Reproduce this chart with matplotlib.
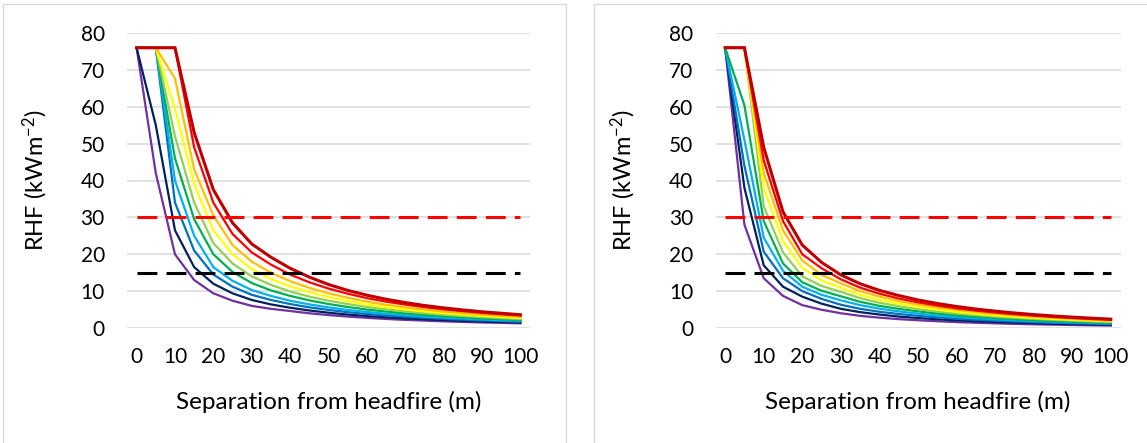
import matplotlib
matplotlib.use("Agg")
import matplotlib.pyplot as plt
from matplotlib.patches import Rectangle

plt.rcParams['font.family'] = ['Lato', 'DejaVu Sans']
plt.rcParams['mathtext.fontset'] = 'custom'
plt.rcParams['mathtext.rm'] = 'Lato'
plt.rcParams['mathtext.it'] = 'Lato'

separation = [0, 5, 10, 15, 20, 25, 30, 35, 40, 45, 50,
              55, 60, 65, 70, 75, 80, 85, 90, 95, 100]
tick_labels = ['0', '10', '20', '30', '40', '50', '60', '70', '80', '90', '100']
series_colors = ['#7030A0', '#002060', '#0070C0', '#00B0F0', '#00B050',
                 '#92D050', '#FFFF00', '#FFC000', '#FF0000', '#C00000']

# left chart
left_purple = [76, 42, 20, 13, 9.4, 7.4, 6.0, 5.2, 4.6, 4.0, 3.5, 3.1, 2.75, 2.45, 2.2, 2.0, 1.8, 1.65, 1.5, 1.38, 1.27]
left_navy = [76, 55, 26.5, 16.5, 12.0, 9.4, 7.6, 6.4, 5.5, 4.75, 4.15, 3.65, 3.25, 2.9, 2.6, 2.35, 2.13, 1.93, 1.76, 1.62, 1.5]
left_blue = [76, 76, 34, 21, 14.5, 11.2, 9.0, 7.6, 6.5, 5.6, 4.9, 4.3, 3.8, 3.4, 3.05, 2.75, 2.5, 2.25, 2.05, 1.88, 1.73]
left_lightblue = [76, 76, 40, 25, 16.5, 12.8, 10.3, 8.7, 7.4, 6.4, 5.6, 4.9, 4.35, 3.85, 3.45, 3.1, 2.8, 2.55, 2.3, 2.1, 1.95]
left_green = [76, 76, 46, 29.5, 20, 15.2, 12.2, 10.2, 8.7, 7.5, 6.5, 5.7, 5.0, 4.45, 3.95, 3.55, 3.2, 2.9, 2.62, 2.4, 2.2]
left_lightgreen = [76, 76, 52, 34, 23, 17.5, 14.0, 11.7, 9.9, 8.5, 7.4, 6.5, 5.7, 5.05, 4.5, 4.0, 3.6, 3.25, 2.95, 2.68, 2.45]
left_yellow = [76, 76, 59.5, 39, 26.5, 20, 16, 13.3, 11.3, 9.7, 8.4, 7.3, 6.4, 5.65, 5.0, 4.5, 4.03, 3.63, 3.28, 2.98, 2.72]
left_orange = [76, 76, 67.7, 43, 30.5, 22.5, 18, 15.0, 12.7, 10.9, 9.4, 8.2, 7.15, 6.3, 5.6, 5.0, 4.45, 4.0, 3.62, 3.28, 3.0]
left_red = [76, 76, 76, 49, 34, 25.5, 20.5, 17.2, 14.5, 12.4, 10.7, 9.3, 8.1, 7.15, 6.35, 5.65, 5.05, 4.55, 4.1, 3.72, 3.38]
left_darkred = [76, 76, 76, 53, 37.5, 28.5, 22.8, 19.2, 16.2, 13.8, 11.8, 10.2, 8.9, 7.8, 6.9, 6.1, 5.45, 4.9, 4.4, 4.0, 3.6]

# right chart
right_purple = [76, 28, 13.5, 8.7, 6.2, 4.95, 4.0, 3.3, 2.8, 2.4, 2.1, 1.83, 1.6, 1.42, 1.26, 1.12, 1.0, 0.9, 0.81, 0.73, 0.66]
right_navy = [76, 38, 17, 11.2, 8.5, 6.6, 5.2, 4.3, 3.65, 3.1, 2.7, 2.36, 2.07, 1.83, 1.63, 1.45, 1.3, 1.17, 1.05, 0.95, 0.86]
right_blue = [76, 44, 20.7, 13.5, 10, 7.9, 6.3, 5.2, 4.4, 3.8, 3.3, 2.88, 2.52, 2.23, 1.98, 1.77, 1.58, 1.42, 1.28, 1.16, 1.05]
right_lightblue = [76, 51, 24.5, 15.5, 11.2, 9.0, 7.5, 6.2, 5.25, 4.5, 3.9, 3.4, 2.99, 2.65, 2.35, 2.1, 1.88, 1.69, 1.52, 1.38, 1.25]
right_green = [76, 60.4, 29, 17.5, 12.4, 10.1, 8.6, 7.1, 6.0, 5.2, 4.5, 3.93, 3.45, 3.05, 2.71, 2.42, 2.17, 1.95, 1.76, 1.59, 1.44]
right_lightgreen = [76, 76, 33, 20.5, 14, 11.4, 9.8, 8.1, 6.85, 5.9, 5.1, 4.47, 3.93, 3.48, 3.09, 2.76, 2.47, 2.22, 2.0, 1.81, 1.64]
right_yellow = [76, 76, 38, 23.5, 16.3, 12.9, 10.9, 9.0, 7.65, 6.6, 5.7, 4.98, 4.37, 3.87, 3.43, 3.06, 2.74, 2.46, 2.22, 2.0, 1.82]
right_orange = [76, 76, 42, 26.5, 18.3, 14.4, 12.1, 10.0, 8.5, 7.3, 6.35, 5.55, 4.87, 4.3, 3.82, 3.4, 3.04, 2.73, 2.46, 2.22, 2.01]
right_red = [76, 76, 45.5, 29, 20, 16.2, 13.2, 10.95, 9.3, 8.0, 6.95, 6.07, 5.33, 4.72, 4.19, 3.73, 3.34, 3.0, 2.7, 2.44, 2.2]
right_darkred = [76, 76, 49, 31.5, 22.5, 17.8, 14.4, 12.0, 10.2, 8.8, 7.6, 6.65, 5.83, 5.15, 4.57, 4.07, 3.64, 3.27, 2.95, 2.66, 2.4]

threshold_high = 30
threshold_low = 15

left_series = [left_purple, left_navy, left_blue, left_lightblue, left_green,
               left_lightgreen, left_yellow, left_orange, left_red, left_darkred]
right_series = [right_purple, right_navy, right_blue, right_lightblue, right_green,
                right_lightgreen, right_yellow, right_orange, right_red, right_darkred]

fig = plt.figure(figsize=(11.47, 4.43), dpi=100)

# chart borders
fig.patches.append(Rectangle((3 / 1147, -0.01), 563 / 1147, (443 - 4) / 443 + 0.01,
                             transform=fig.transFigure, fill=False,
                             edgecolor='#D9D9D9', lw=1.0))
fig.patches.append(Rectangle((594 / 1147, -0.01), 560 / 1147, (443 - 4) / 443 + 0.01,
                             transform=fig.transFigure, fill=False,
                             edgecolor='#D9D9D9', lw=1.0))

ax_left = fig.add_axes([127 / 1147, 115 / 443, 403 / 1147, 295 / 443])
ax_right = fig.add_axes([715.5 / 1147, 115 / 443, 405 / 1147, 295 / 443])


def draw_chart(ax, series):
    for values, color in zip(series, series_colors):
        lw = 2.2 if color == '#C00000' else 1.6
        ax.plot(separation, values, color=color, lw=lw, solid_joinstyle='miter',
                zorder=3)
    ax.plot([separation[0], separation[-1]], [threshold_high] * 2, color='#FF0000',
            lw=2.2, dashes=(6.5, 3.0), zorder=4)
    ax.plot([separation[0], separation[-1]], [threshold_low] * 2, color='black',
            lw=2.2, dashes=(6.5, 3.0), zorder=4)

    ax.set_xlim(-2.5, 102.5)
    ax.set_ylim(0, 80)
    ax.set_yticks(range(0, 81, 10))
    ax.set_xticks(range(0, 101, 10))
    ax.set_xticklabels(tick_labels)
    ax.grid(axis='y', color='#D9D9D9', lw=1.1)
    ax.set_axisbelow(True)
    for side in ['top', 'right', 'left', 'bottom']:
        ax.spines[side].set_visible(False)
    ax.tick_params(length=0, labelsize=15, colors='black')
    ax.tick_params(axis='y', pad=16)
    ax.tick_params(axis='x', pad=14)
    ax.set_ylabel('RHF (kWm$^{-2}$)', fontsize=17, labelpad=22)
    ax.set_xlabel('Separation from headfire (m)', fontsize=17.5, labelpad=17)


draw_chart(ax_left, left_series)
draw_chart(ax_right, right_series)

fig.savefig('out.png', dpi=100)
